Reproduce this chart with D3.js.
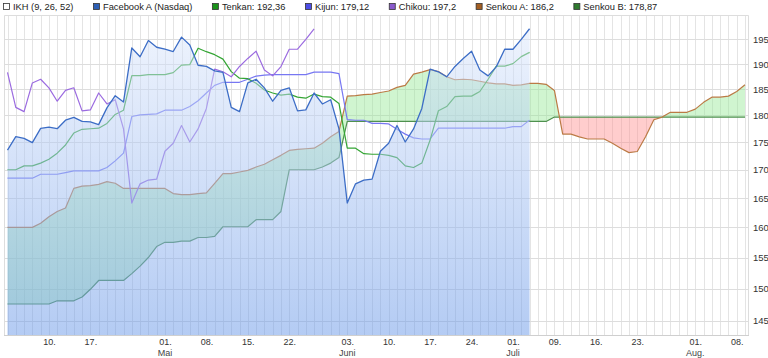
<!DOCTYPE html>
<html>
<head>
<meta charset="utf-8">
<script src="https://cdnjs.cloudflare.com/ajax/libs/d3/7.8.5/d3.min.js"></script>
<style>
body { margin: 0; background: #fff; }
svg text { font-family: "Liberation Sans", Arial, sans-serif; }
</style>
</head>
<body>
<script>
// Facebook A (Nasdaq), daily closes 03.04. - 03.07.2019 (one value per trading day)
var close = [173.54, 176.02, 175.72, 174.93, 177.58, 177.82, 177.51, 179.10, 179.65, 178.87,
	178.78, 178.28, 181.44, 183.78, 182.58, 193.26, 191.49, 194.78, 193.40, 193.03,
	192.53, 195.47, 193.88, 189.77, 189.54, 188.65, 188.34, 181.54, 180.73, 186.27,
	186.99, 185.30, 182.72, 184.82, 185.32, 180.87, 181.06, 184.31, 182.19, 183.01,
	177.47, 164.15, 167.50, 168.17, 168.33, 173.35, 174.82, 178.10, 175.04, 177.47,
	181.33, 189.01, 188.47, 187.48, 189.53, 191.14, 192.60, 188.84, 187.66, 189.50,
	193.00, 193.00, 195.00, 197.20];

var tenkan = [170.0, 170.0, 170.7, 170.7, 171.2, 171.9, 173.0, 174.5, 176.7, 177.4,
	177.5, 177.6, 178.5, 180.2, 181.0, 187.7, 187.7, 187.9, 187.9, 187.9,
	188.3, 189.8, 189.9, 193.2, 192.5, 191.9, 191.0, 188.5, 187.2, 187.1,
	186.2, 184.9, 184.3, 183.9, 184.1, 183.5, 183.3, 184.1, 183.6, 183.5,
	182.3, 173.9, 173.9, 172.9, 172.8, 172.8, 172.6, 172.2, 170.7, 170.4,
	171.2, 175.4, 180.9, 181.7, 183.6, 183.7, 183.7, 184.6, 187.0, 189.6,
	189.6, 190.1, 191.5, 192.36];

var kijun = [168.5, 168.5, 168.5, 168.5, 169.2, 169.2, 169.2, 169.5, 169.8, 169.8,
	169.8, 169.8, 170.4, 171.6, 173.0, 179.8, 180.1, 180.2, 180.3, 181.0,
	181.0, 181.0, 181.7, 182.8, 184.3, 185.8, 186.4, 186.4, 186.4, 187.0,
	187.6, 187.8, 187.9, 187.9, 187.9, 187.9, 187.9, 188.4, 188.4, 188.4,
	188.1, 179.2, 179.1, 179.1, 178.5, 178.5, 178.4, 177.4, 176.5, 175.8,
	175.6, 175.6, 177.6, 177.6, 177.6, 177.6, 177.6, 177.6, 177.6, 177.6,
	177.6, 177.9, 177.9, 179.12];

// chikou = close moved back 26 days
var chikou = close.slice(26);

// senkou spans run 26 days past the last close
var senkouA = [160.0, 160.0, 160.0, 160.0, 160.7, 161.8, 162.7, 163.3, 166.7, 167.1,
	167.2, 167.4, 167.9, 167.6, 166.7, 166.7, 166.7, 166.7, 166.7, 166.7,
	165.8, 165.6, 165.6, 165.8, 165.9, 167.6, 169.3, 169.3, 169.6, 169.9,
	170.5, 171.0, 171.8, 172.6, 173.5, 173.7, 173.8, 173.9, 174.8, 176.0,
	177.0, 183.7, 183.8, 184.0, 184.1, 184.4, 184.7, 185.4, 185.8, 188.0,
	188.4, 188.9, 188.5, 187.5, 186.9, 187.0, 186.9, 186.6, 186.3, 186.1,
	186.1, 185.8, 185.9, 186.2, 186.2, 186.0, 184.8, 176.5, 176.5, 176.0,
	175.6, 175.6, 175.6, 174.8, 173.9, 173.1, 173.3, 176.0, 179.2, 179.7,
	180.6, 180.6, 180.6, 181.2, 182.5, 183.5, 183.5, 183.7, 184.6, 185.9];

var senkouB = [147.6, 147.6, 147.6, 147.6, 147.6, 147.6, 148.1, 148.1, 148.1, 148.7,
	149.9, 151.3, 151.3, 151.3, 151.3, 152.4, 153.6, 155.0, 156.8, 157.5,
	157.5, 157.7, 157.7, 158.3, 158.3, 158.5, 160.1, 160.1, 160.1, 160.1,
	161.3, 161.3, 161.3, 162.7, 170.0, 170.0, 170.0, 170.0, 170.5, 171.2,
	172.2, 178.87, 178.87, 178.87, 178.87, 178.87, 178.87, 178.87, 178.87, 178.87,
	178.87, 178.87, 178.87, 178.87, 178.87, 178.87, 178.87, 178.87, 178.87, 178.87,
	178.87, 178.87, 178.87, 178.87, 178.87, 178.87, 179.7, 179.7, 179.7, 179.7,
	179.7, 179.7, 179.7, 179.7, 179.7, 179.7, 179.7, 179.7, 179.7, 179.7,
	179.7, 179.7, 179.7, 179.7, 179.7, 179.7, 179.7, 179.7, 179.7, 179.7];

// x axis: trading day index -> label
var tickDays = [5, 10, 19, 24, 29, 34, 41, 46, 51, 56, 61, 66, 71, 76, 83, 88];
var tickLabels = ["10.", "17.", "01.", "08.", "15.", "22.", "03.", "10.", "17.", "24.", "01.", "09.", "16.", "23.", "01.", "08."];
var monthDays = [19, 41, 61, 83];
var monthLabels = ["Mai", "Juni", "Juli", "Aug."];
var yTicks = [145, 150, 155, 160, 165, 170, 175, 180, 185, 190, 195];

var legendLabels = ["IKH (9, 26, 52)", "Facebook A (Nasdaq)", "Tenkan: 192,36", "Kijun: 179,12", "Chikou: 197,2", "Senkou A: 186,2", "Senkou B: 178,87"];
var legendColors = ["#ffffff", "#2d5fb5", "#1a931a", "#4d4de6", "#8a5acc", "#a35e22", "#2f7a2f"];

var chart = {
	width: 768,
	height: 358,
	frameLeft: 4,
	frameRight: 748,
	left: 7.5,
	right: 745,
	top: 15,
	bottom: 335
};

var svg = d3.select("body")
	.append("svg")
	.attr("width", chart.width)
	.attr("height", chart.height);

var x = d3.scaleLinear().domain([0, senkouA.length - 1]).range([chart.left, chart.right]);
var y = d3.scaleLog().domain([142.86, 200.08]).range([chart.bottom, chart.top]);

var defs = svg.append("defs");

var grad = defs.append("linearGradient")
	.attr("id", "fbFill")
	.attr("gradientUnits", "userSpaceOnUse")
	.attr("x1", 0).attr("y1", chart.top)
	.attr("x2", 0).attr("y2", chart.bottom);
grad.append("stop").attr("offset", "0%").attr("stop-color", "rgb(226,235,252)");
grad.append("stop").attr("offset", "100%").attr("stop-color", "rgb(105,152,232)");

// clip regions above / below senkou B, for the two cloud colours
defs.append("clipPath").attr("id", "aboveB")
	.append("path")
	.attr("d", d3.area().x(function(d, i){ return x(i); }).y0(chart.top).y1(function(d){ return y(d); })(senkouB));
defs.append("clipPath").attr("id", "belowB")
	.append("path")
	.attr("d", d3.area().x(function(d, i){ return x(i); }).y0(chart.bottom).y1(function(d){ return y(d); })(senkouB));

// grid
var grid = svg.append("g").attr("class", "grid");
grid.selectAll("line.v")
	.data(senkouA)
	.enter()
	.append("line")
	.attr("class", "v")
	.attr("x1", function(d, i){ return Math.round(x(i)) + 0.5; })
	.attr("x2", function(d, i){ return Math.round(x(i)) + 0.5; })
	.attr("y1", chart.top)
	.attr("y2", chart.bottom)
	.attr("stroke", "#e4e4e4");
grid.selectAll("line.h")
	.data(yTicks)
	.enter()
	.append("line")
	.attr("class", "h")
	.attr("x1", chart.frameLeft)
	.attr("x2", chart.frameRight)
	.attr("y1", function(d){ return Math.round(y(d)) + 0.5; })
	.attr("y2", function(d){ return Math.round(y(d)) + 0.5; })
	.attr("stroke", "#dddddd");

// frame
svg.append("path")
	.attr("d", "M" + (chart.frameLeft + 0.5) + "," + chart.bottom + "V" + (chart.top + 0.5) + "H" + (chart.frameRight + 0.5) + "V" + chart.bottom)
	.attr("fill", "none")
	.attr("stroke", "#dddddd");
svg.append("line")
	.attr("x1", chart.frameLeft).attr("x2", chart.frameRight + 1)
	.attr("y1", chart.bottom + 0.5).attr("y2", chart.bottom + 0.5)
	.attr("stroke", "#cfcfcf");

// cloud
var cloud = d3.area()
	.x(function(d, i){ return x(i); })
	.y0(function(d, i){ return y(senkouB[i]); })
	.y1(function(d){ return y(d); });

svg.append("path")
	.attr("d", cloud(senkouA))
	.attr("clip-path", "url(#aboveB)")
	.attr("fill", "rgb(150,233,150)")
	.attr("fill-opacity", 0.45);
svg.append("path")
	.attr("d", cloud(senkouA))
	.attr("clip-path", "url(#belowB)")
	.attr("fill", "rgb(255,144,144)")
	.attr("fill-opacity", 0.45);

var line = d3.line()
	.x(function(d, i){ return x(i); })
	.y(function(d){ return y(d); });

function drawLine(data, color, width){
	return svg.append("path")
		.attr("d", line(data))
		.attr("fill", "none")
		.attr("stroke", color)
		.attr("stroke-width", width)
		.attr("stroke-linejoin", "round");
}

drawLine(senkouB, "#4f914f", 1.2);
drawLine(senkouA, "#bb7a45", 1.2);
drawLine(kijun, "#7777f2", 1.2);
drawLine(tenkan, "#34a534", 1.2);
drawLine(chikou, "#9b6be0", 1.2);

// price area on top (semi transparent), then the price line
svg.append("path")
	.attr("d", d3.area()
		.x(function(d, i){ return x(i); })
		.y0(chart.bottom)
		.y1(function(d){ return y(d); })(close))
	.attr("fill", "url(#fbFill)")
	.attr("fill-opacity", 0.5);
drawLine(close, "#3c6dc6", 1.3);

// y axis labels on the right
var yAxis = svg.append("g")
	.attr("transform", "translate(" + chart.frameRight + ",0)")
	.call(d3.axisRight(y).tickValues(yTicks).tickFormat(d3.format("d")).tickSize(0).tickPadding(5));
yAxis.select(".domain").remove();
yAxis.selectAll("text")
	.attr("font-size", 9.5)
	.attr("fill", "#333");

// x axis labels
var xAxis = svg.append("g")
	.attr("transform", "translate(0," + chart.bottom + ")")
	.call(d3.axisBottom(x).tickValues(tickDays).tickFormat(function(d, i){ return tickLabels[i]; }).tickSize(0).tickPadding(4));
xAxis.select(".domain").remove();
xAxis.selectAll("text")
	.attr("font-size", 9)
	.attr("fill", "#333");

svg.selectAll("text.month")
	.data(monthLabels)
	.enter()
	.append("text")
	.attr("class", "month")
	.attr("x", function(d, i){ return x(monthDays[i]); })
	.attr("y", 355.5)
	.attr("text-anchor", "middle")
	.attr("font-size", 9)
	.attr("fill", "#444")
	.text(function(d){ return d; });

// legend
var legend = svg.append("g").attr("class", "legend");
var lx = 3.5;
legendLabels.forEach(function(label, i){
	legend.append("rect")
		.attr("x", lx).attr("y", 3.5)
		.attr("width", 6).attr("height", 6)
		.attr("fill", legendColors[i])
		.attr("stroke", "#333")
		.attr("stroke-width", 0.8);
	var t = legend.append("text")
		.attr("x", lx + 9.5)
		.attr("y", 10)
		.attr("font-size", 9.3)
		.attr("fill", "#222")
		.text(label);
	lx = lx + 9.5 + t.node().getComputedTextLength() + 20;
});
</script>
</body>
</html>
